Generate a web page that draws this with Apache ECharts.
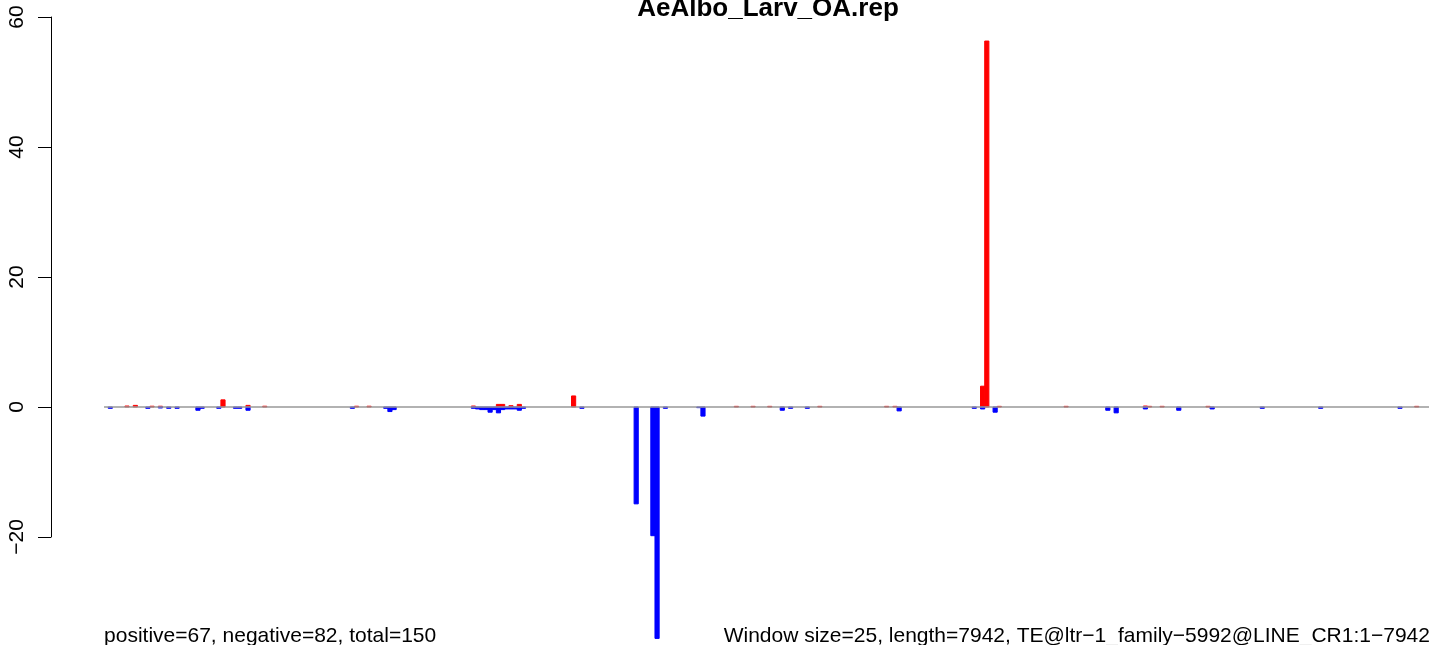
<!DOCTYPE html>
<html>
<head>
<meta charset="utf-8">
<script src="https://cdn.jsdelivr.net/npm/echarts@6/dist/echarts.min.js"></script>
<style>
html,body{margin:0;padding:0;background:#fff;}
#chart{width:1429px;height:645px;}
</style>
</head>
<body>
<div id="chart"></div>
<script>
// ---- data ----
const titleText = 'AeAlbo_Larv_OA.rep';
const windowSize = 25;
const seqLength = 7942;
const yTicks = [-20, 0, 20, 40, 60];
// window index (0-based) and value for sense (positive, red) reads
const posWindows = [5, 7, 11, 13, 28, 34, 38, 60, 63, 88, 94, 95, 97, 99, 112, 151, 155, 159, 171, 187, 189, 210, 211, 214, 230, 249, 250, 253, 264, 314];
const posValues  = [0.15, 0.25, 0.12, 0.12, 1.1, 0.25, 0.12, 0.12, 0.12, 0.15, 0.4, 0.4, 0.2, 0.4, 1.7, 0.1, 0.1, 0.1, 0.1, 0.1, 0.1, 3.2, 56.3, 0.1, 0.1, 0.15, 0.1, 0.1, 0.1, 0.1];
// window index and value for antisense (negative, blue) reads
const negWindows = [1, 10, 13, 15, 17, 22, 23, 27, 31, 32, 34, 59, 67, 68, 69, 88, 89, 90, 91, 92, 93, 94, 95, 96, 97, 98, 99, 100, 114, 127, 131, 132, 134, 142, 143, 162, 164, 168, 190, 208, 210, 213, 240, 242, 249, 257, 265, 277, 291, 310];
const negValues  = [-0.2, -0.2, -0.15, -0.2, -0.2, -0.5, -0.2, -0.2, -0.2, -0.2, -0.5, -0.2, -0.2, -0.7, -0.4, -0.2, -0.3, -0.4, -0.4, -0.8, -0.4, -0.9, -0.4, -0.3, -0.3, -0.3, -0.5, -0.2, -0.2, -14.9, -19.8, -35.6, -0.2, -0.1, -1.4, -0.5, -0.2, -0.2, -0.6, -0.2, -0.3, -0.8, -0.5, -0.9, -0.3, -0.5, -0.3, -0.2, -0.2, -0.2];
const leftNote = 'positive=67, negative=82, total=150';
const rightNote = 'Window size=25, length=7942, TE@ltr\u22121_family\u22125992@LINE_CR1:1\u22127942';

// ---- chart ----
const chart = echarts.init(document.getElementById('chart'), null, {renderer: 'canvas'});
const FONT = '"Liberation Sans", Arial, Helvetica, sans-serif';

function barRenderer(color) {
  return function (params, api) {
    const w = api.value(0), v = api.value(1);
    const p0 = api.coord([w * windowSize, v]);
    const p1 = api.coord([(w + 1) * windowSize, 0]);
    return {
      type: 'rect',
      shape: {x: p0[0], y: Math.min(p0[1], p1[1]), width: p1[0] - p0[0], height: Math.abs(p1[1] - p0[1])},
      style: {fill: color, stroke: color, lineWidth: 1}
    };
  };
}

const xPad = seqLength * 0.04;
const option = {
  animation: false,
  backgroundColor: '#ffffff',
  title: {
    text: titleText,
    left: 763, top: -9, textAlign: 'center',
    textStyle: {fontFamily: FONT, fontWeight: 'bold', fontSize: 26, color: '#000'}
  },
  grid: {left: 51, top: 17, width: 1432, height: 520, containLabel: false, outerBoundsMode: 'none'},
  xAxis: {
    type: 'value', min: -xPad, max: seqLength + xPad,
    show: false
  },
  yAxis: {
    type: 'value', min: yTicks[0], max: yTicks[yTicks.length - 1], interval: 20,
    splitLine: {show: false},
    axisLine: {show: true, onZero: false, lineStyle: {color: '#000', width: 1}},
    axisTick: {show: true, length: 13, lineStyle: {color: '#000', width: 1}},
    axisLabel: {
      rotate: 90, margin: 23, fontSize: 21, fontFamily: FONT, color: '#000',
      formatter: v => String(v).replace('-', '\u2212')
    }
  },
  series: [
    {
      type: 'custom', clip: false, z: 2,
      renderItem: barRenderer('#ff0000'),
      data: posWindows.map((w, k) => [w, posValues[k]])
    },
    {
      type: 'custom', clip: false, z: 2,
      renderItem: barRenderer('#0000ff'),
      data: negWindows.map((w, k) => [w, negValues[k]])
    },
    {
      type: 'line', z: 3, symbol: 'none', silent: true,
      lineStyle: {color: '#999999', width: 1.5},
      data: [[0, 0], [seqLength, 0]]
    }
  ]
};
chart.setOption(option);

const pL = chart.convertToPixel({gridIndex: 0}, [0, 0]);
const pR = chart.convertToPixel({gridIndex: 0}, [seqLength, 0]);
chart.setOption({
  graphic: [
    {type: 'text', x: pL[0], y: 636, style: {text: leftNote, font: '21px ' + FONT, fill: '#000', textAlign: 'left', textVerticalAlign: 'middle'}},
    {type: 'text', x: pR[0], y: 636, style: {text: rightNote, font: '21px ' + FONT, fill: '#000', textAlign: 'right', textVerticalAlign: 'middle'}}
  ]
});
</script>
</body>
</html>
